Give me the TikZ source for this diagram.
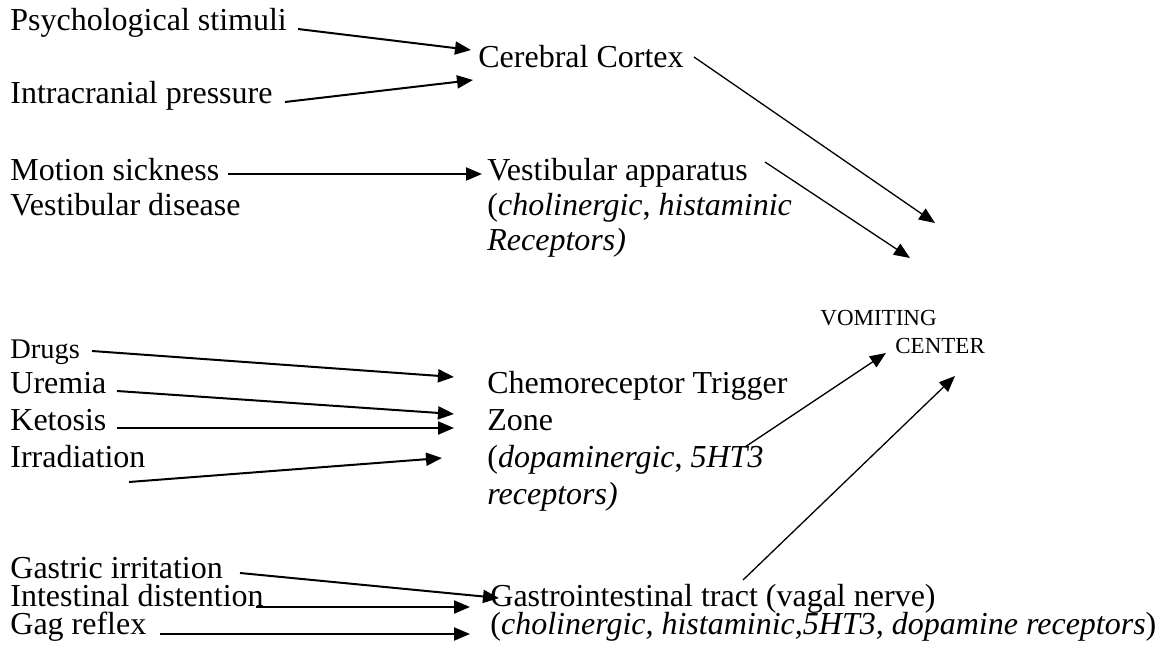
\documentclass[tikz,border=0pt]{standalone}
\usepackage{fontspec}
\setmainfont{Liberation Serif}
\usetikzlibrary{arrows.meta}
\begin{document}
\begin{tikzpicture}[x=0.5pt,y=-0.5pt,
  lbl/.style={anchor=base west,inner sep=0pt,font=\fontsize{16}{18}\selectfont},
  sml/.style={anchor=base west,inner sep=0pt,font=\fontsize{14.2}{16}\selectfont},
  vc/.style={anchor=base west,inner sep=0pt,font=\fontsize{11.5}{13}\selectfont},
  arr/.style={-{Triangle[length=8pt,width=6.5pt]},line width=1pt},
  arrt/.style={arr,line width=0.65pt}]
\useasboundingbox[fill=white] (0,0) rectangle (1168,658);
% left column
\node[lbl] (psy) at (10,31) {Psychological stimuli};
\node[lbl] (icp) at (10,104) {Intracranial pressure};
\node[lbl] (mot) at (10,181) {Motion sickness};
\node[lbl] (vdis) at (10,215) {Vestibular disease};
\node[sml] (drg) at (10,358) {Drugs};
\node[lbl] (ure) at (10,393) {Uremia};
\node[lbl] (ket) at (10,430) {Ketosis};
\node[lbl] (irr) at (10,467) {Irradiation};
\node[lbl] (gas) at (10,578) {Gastric irritation};
\node[lbl] (int) at (10,606) {Intestinal distention};
\node[lbl] (gag) at (10,634) {Gag reflex};
% middle column
\node[lbl] (cc) at (478,68) {Cerebral Cortex};
\node[lbl] (va1) at (487,181) {Vestibular apparatus};
\node[lbl] (va2) at (487,215) {(\textit{cholinergic}, \textit{histaminic}};
\node[lbl] (va3) at (487,250) {\textit{Receptors)}};
\node[lbl] (ctz1) at (487,393) {Chemoreceptor Trigger};
\node[lbl] (ctz2) at (487,430) {Zone};
\node[lbl] (ctz3) at (487,467) {(\textit{dopaminergic}, \textit{5HT3}};
\node[lbl] (ctz4) at (487,504) {\textit{receptors)}};
\node[lbl] (gi1) at (490,606) {Gastrointestinal tract (vagal nerve)};
\node[lbl] (gi2) at (490,634) {(\textit{cholinergic, histaminic,5HT3, dopamine receptors})};
% vomiting center
\node[vc] (vc1) at (820,325) {VOMITING};
\node[vc] (vc2) at (895,353) {CENTER};
% connector ends
\coordinate (psyS) at (298,29);
\coordinate (psyE) at (471,50);
\coordinate (icpS) at (285,102);
\coordinate (icpE) at (473,80);
\coordinate (ccS) at (694,57);
\coordinate (ccE) at (935,223);
\coordinate (motS) at (228,174);
\coordinate (motE) at (482,174);
\coordinate (vaS) at (765,162);
\coordinate (vaE) at (910,258);
\coordinate (drgS) at (92,351);
\coordinate (drgE) at (454,377);
\coordinate (ureS) at (117,391);
\coordinate (ureE) at (454,414);
\coordinate (ketS) at (117,428);
\coordinate (ketE) at (454,428);
\coordinate (irrS) at (129,482);
\coordinate (irrE) at (442,458);
\coordinate (ctzS) at (745,447);
\coordinate (ctzE) at (886,353);
\coordinate (giS) at (743,580);
\coordinate (giE) at (955,376);
\coordinate (gasS) at (240,573);
\coordinate (gasE) at (499,598);
\coordinate (intS) at (256,607);
\coordinate (intE) at (470,607);
\coordinate (gagS) at (160,634);
\coordinate (gagE) at (470,634);
% connectors
\draw[arr] (psyS) -- (psyE);
\draw[arr] (icpS) -- (icpE);
\draw[arrt] (ccS) -- (ccE);
\draw[arr] (motS) -- (motE);
\draw[arrt] (vaS) -- (vaE);
\draw[arr] (drgS) -- (drgE);
\draw[arr] (ureS) -- (ureE);
\draw[arr] (ketS) -- (ketE);
\draw[arr] (irrS) -- (irrE);
\draw[arrt] (ctzS) -- (ctzE);
\draw[arrt] (giS) -- (giE);
\draw[arr] (gasS) -- (gasE);
\draw[arr] (intS) -- (intE);
\draw[arr] (gagS) -- (gagE);
\end{tikzpicture}
\end{document}
